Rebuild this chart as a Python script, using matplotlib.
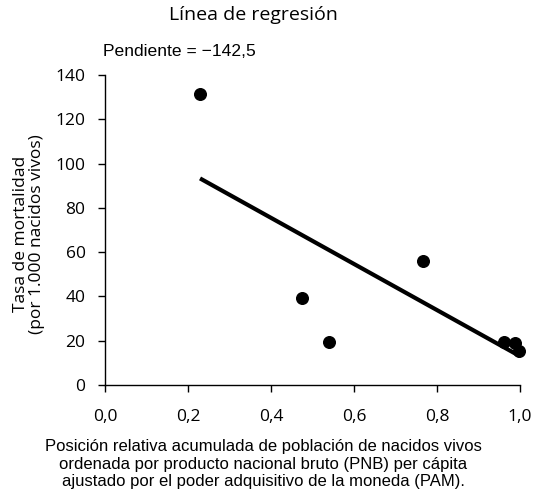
import matplotlib
matplotlib.use('Agg')
from matplotlib import pyplot as plt

# data
pos_x = [0.229, 0.475, 0.540, 0.766, 0.961, 0.988, 0.997]
mortalidad = [131.2, 39.4, 19.5, 56.2, 19.5, 19.0, 15.4]
fit_x = [0.229, 1.0]
fit_y = [93.3, 13.0]
x_ticks = [0.0, 0.2, 0.4, 0.6, 0.8, 1.0]
y_ticks = [0, 20, 40, 60, 80, 100, 120, 140]

W, H = 537, 498
fig = plt.figure(figsize=(W / 100, H / 100), dpi=100)
# axes box in pixels: left 105, right 520, top 75, bottom 385
ax = fig.add_axes([105 / W, 1 - 385 / H, 415 / W, 310 / H])

ax.plot(fit_x, fit_y, color='black', lw=3.0, solid_capstyle='butt', zorder=2)
ax.scatter(pos_x, mortalidad, s=70, color='black', zorder=3, clip_on=False)

ax.set_xlim(0, 1.0)
ax.set_ylim(0, 140)
ax.set_xticks(x_ticks)
ax.set_yticks(y_ticks)
ax.set_xticklabels([f'{v:.1f}'.replace('.', ',') for v in x_ticks],
                   fontfamily='Open Sans', fontsize=12.5)
ax.set_yticklabels([str(v) for v in y_ticks], fontfamily='Open Sans', fontsize=12.5)
ax.spines['top'].set_visible(False)
ax.spines['right'].set_visible(False)
for s in ('left', 'bottom'):
    ax.spines[s].set_linewidth(1.0)
ax.tick_params(direction='out', length=5, width=1.0)
ax.tick_params(axis='x', pad=12)
ax.tick_params(axis='y', pad=9)

fig.text(253 / W, 1 - 15 / H, 'Línea de regresión', ha='center', va='center',
         fontfamily='Open Sans', fontsize=14)
fig.text(103 / W, 1 - 52 / H, 'Pendiente = \u2212142,5', ha='left', va='center',
         fontfamily='Liberation Sans', fontsize=12.6)
fig.text(29 / W, 1 - 234 / H, 'Tasa de mortalidad\n(por 1.000 nacidos vivos)',
         ha='center', va='center', rotation=90, fontfamily='Open Sans',
         fontsize=12.5, linespacing=1.0)
fig.text(263 / W, 1 - 464 / H,
         'Posición relativa acumulada de población de nacidos vivos\n'
         'ordenada por producto nacional bruto (PNB) per cápita\n'
         'ajustado por el poder adquisitivo de la moneda (PAM).',
         ha='center', va='center', fontfamily='Liberation Sans',
         fontsize=12, linespacing=1.2)

fig.savefig('out.png', dpi=100)
